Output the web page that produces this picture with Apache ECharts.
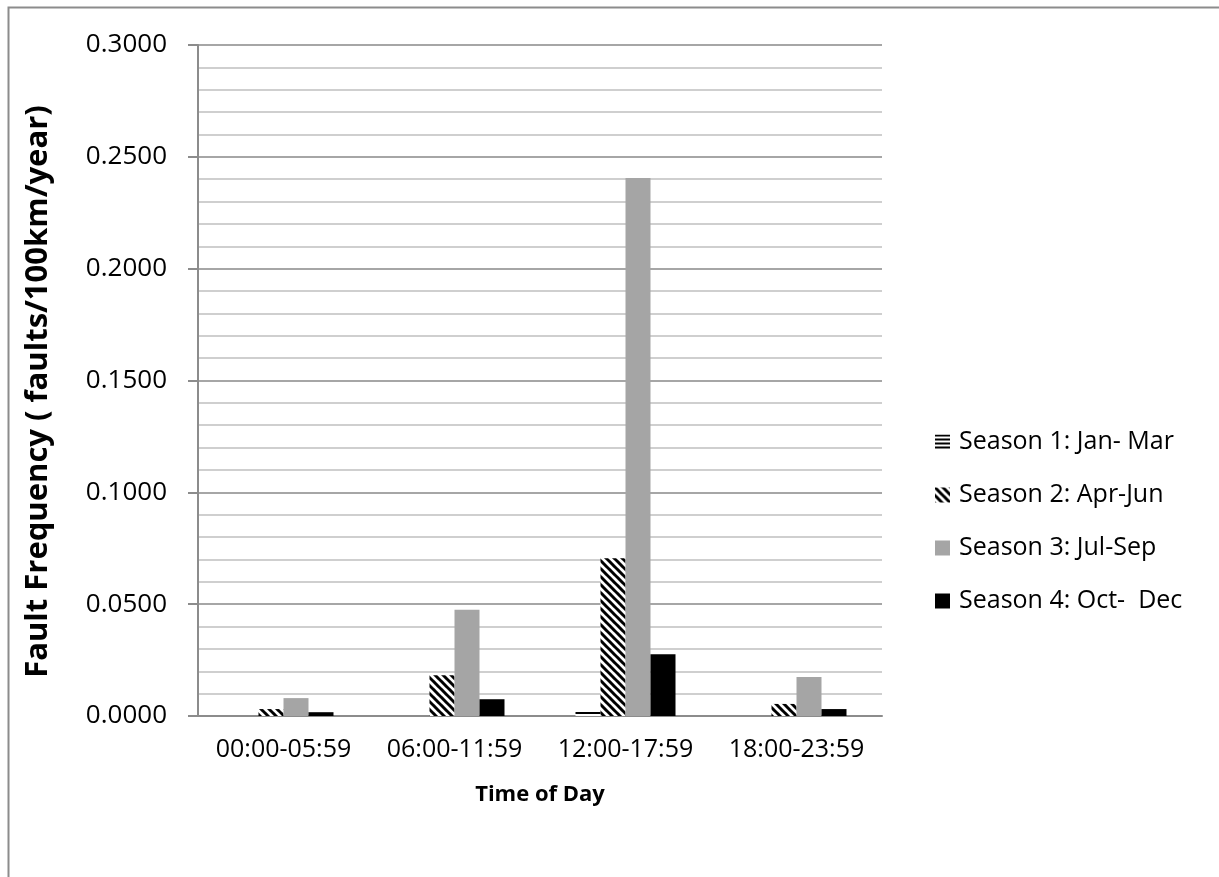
<!DOCTYPE html>
<html>
<head>
<meta charset="utf-8">
<script src="https://cdn.jsdelivr.net/npm/echarts@6/dist/echarts.min.js"></script>
<style>
html,body{margin:0;padding:0;background:#fff;}
#chart{width:1219px;height:877px;}
</style>
</head>
<body>
<div id="chart"></div>
<script>
const categories = ['00:00-05:59', '06:00-11:59', '12:00-17:59', '18:00-23:59'];
const season1 = [0, 0, 0.0024, 0];
const season2 = [0.0031, 0.0182, 0.0705, 0.0054];
const season3 = [0.0080, 0.0475, 0.2405, 0.0174];
const season4 = [0.0017, 0.0075, 0.0276, 0.0031];
const seriesNames = ['Season 1: Jan- Mar', 'Season 2: Apr-Jun', 'Season 3: Jul-Sep', 'Season 4: Oct-  Dec'];

function hPattern() {
  const c = document.createElement('canvas');
  c.width = 4; c.height = 4;
  const g = c.getContext('2d');
  g.fillStyle = '#fff'; g.fillRect(0, 0, 4, 4);
  g.fillStyle = '#000'; g.fillRect(0, 0, 4, 2);
  return c;
}
function dPattern() {
  const c = document.createElement('canvas');
  const s = 8;
  c.width = s; c.height = s;
  const g = c.getContext('2d');
  g.fillStyle = '#fff'; g.fillRect(0, 0, s, s);
  g.strokeStyle = '#000'; g.lineWidth = 3;
  for (const k of [-s, 0, s]) {
    g.beginPath(); g.moveTo(k - 1, -1); g.lineTo(k + s + 1, s + 1); g.stroke();
  }
  return c;
}

const font = "'Open Sans', 'Noto Sans', sans-serif";
const chart = echarts.init(document.getElementById('chart'));
chart.setOption({
  animation: false,
  backgroundColor: '#fff',
  textStyle: { fontFamily: font },
  graphic: [{
    type: 'rect', left: 6, top: 5, shape: { width: 1300, height: 1000 },
    style: { fill: 'none', stroke: '#8c8c8c', lineWidth: 2 }, silent: true
  }],
  grid: { left: 198, right: 337, top: 45, bottom: 161 },
  legend: {
    orient: 'vertical', left: 930, top: 424, itemWidth: 15, itemHeight: 15, itemGap: 27,
    icon: 'rect',
    textStyle: { fontFamily: font, fontSize: 25, color: '#000', lineHeight: 26, padding: [0, 0, 0, 4] },
    data: seriesNames
  },
  xAxis: {
    type: 'category', data: categories,
    name: 'Time of Day', nameLocation: 'middle', nameGap: 68,
    nameTextStyle: { fontFamily: font, fontSize: 22, fontWeight: 'bold', color: '#000' },
    axisLine: { lineStyle: { color: '#8c8c8c', width: 2 } },
    axisTick: { show: false },
    axisLabel: { fontFamily: font, fontSize: 25, color: '#000', margin: 21, interval: 0, hideOverlap: false }
  },
  yAxis: {
    type: 'value', min: 0, max: 0.3, interval: 0.05,
    name: 'Fault Frequency ( faults/100km/year)', nameLocation: 'middle', nameGap: 144, nameRotate: 90,
    nameTextStyle: { fontFamily: font, fontSize: 31, fontWeight: 'bold', color: '#000', padding: [0, 0, 0, -22] },
    axisLine: { show: true, lineStyle: { color: '#8c8c8c', width: 2 } },
    axisTick: { show: true, length: 10, lineStyle: { color: '#8c8c8c', width: 2 } },
    axisLabel: { fontFamily: font, fontSize: 26, color: '#000', margin: 31, formatter: v => v.toFixed(4) },
    splitLine: { lineStyle: { color: '#a6a6a6', width: 2 } },
    minorTick: { show: false, splitNumber: 5 },
    minorSplitLine: { show: true, lineStyle: { color: '#cfcfcf', width: 2 } }
  },
  series: [
    { name: seriesNames[0], type: 'bar', data: season1, barWidth: 25, barGap: '0%',
      itemStyle: { color: { image: hPattern(), repeat: 'repeat' } } },
    { name: seriesNames[1], type: 'bar', data: season2, barWidth: 25, barGap: '0%',
      itemStyle: { color: { image: dPattern(), repeat: 'repeat' } } },
    { name: seriesNames[2], type: 'bar', data: season3, barWidth: 25, barGap: '0%',
      itemStyle: { color: '#a5a5a5' } },
    { name: seriesNames[3], type: 'bar', data: season4, barWidth: 25, barGap: '0%',
      itemStyle: { color: '#000' } }
  ]
});
</script>
</body>
</html>
